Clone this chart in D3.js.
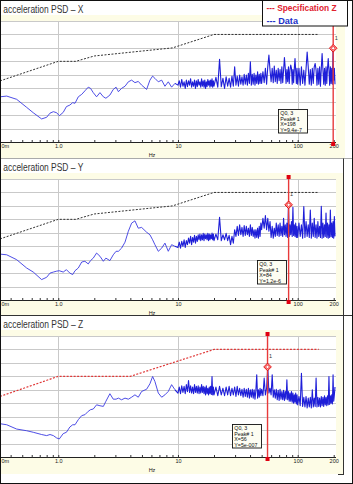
<!DOCTYPE html>
<html><head><meta charset="utf-8">
<script src="https://cdn.jsdelivr.net/npm/d3@7"></script>
<style>html,body{margin:0;padding:0;background:#fff;} svg{display:block;}</style>
</head><body>
<svg id="c" width="353" height="484"></svg>
<script>
// ---------------- DATA ----------------
const titles = ["acceleration PSD \u2013 X", "acceleration PSD \u2013 Y", "acceleration PSD \u2013 Z"];
const legendLabels = ["--- Specification Z", "--- Data"];

const freqLow = [0.326,0.371,0.449,0.544,0.618,0.726,0.80,0.853,0.91,0.97,1.02,1.10,1.17,1.25,1.32,1.38,1.47,1.57,1.67,1.78,1.86,1.96,2.09,2.23,2.38,2.50,2.70,2.88,3.04,3.18,3.38,3.61,3.85,4.10,4.37,4.66,4.97,5.47,5.83,6.14,6.42,6.85,7.31,7.78,8.30,8.85,9.44];
const freqHigh = [10,10.25,10.5,10.75,11,11.25,11.5,11.75,12,12.25,12.5,12.75,13,13.25,13.5,13.75,14,14.25,14.5,14.75,15,15.25,15.5,15.75,16,16.25,16.5,16.75,17,17.25,17.5,17.75,18,18.25,18.5,18.75,19,19.25,19.5,19.75,
 20,20.75,21.5,22.25,23,23.75,24.5,25.25,26,26.75,27.5,28.25,29,29.75,30.5,31.25,32,32.75,33.5,34.25,35,35.75,36.5,37.25,38,38.75,39.5,40.25,41,41.75,42.5,43.25,44,44.75,45.5,46.25,47,47.75,48.5,49.25,
 50,51.25,52.5,53.75,55,56.25,57.5,58.75,60,61.25,62.5,63.75,65,66.25,67.5,68.75,70,71.25,72.5,73.75,75,76.25,77.5,78.75,80,81.25,82.5,83.75,85,86.25,87.5,88.75,90,91.25,92.5,93.75,95,96.25,97.5,98.75,
 100,102.5,105,107.5,110,112.5,115,117.5,120,122.5,125,127.5,130,132.5,135,137.5,140,142.5,145,147.5,150,152.5,155,157.5,160,162.5,165,167.5,170,172.5,175,177.5,180,182.5,185,187.5,190,192.5,195,197.5,200,202.5,205];

const psdLowX = [2.3e-10,2.6e-10,1.5e-10,3.8e-11,1.5e-11,5.2e-12,6.9e-12,1.4e-11,1.8e-11,1.5e-11,9e-12,1.6e-11,4.3e-11,5.6e-11,8.5e-11,7.6e-11,2.3e-10,3.5e-10,6.4e-10,1.2e-9,9.8e-10,4.7e-10,2.3e-10,4.7e-10,2.3e-10,1.8e-10,3.1e-10,8.1e-10,1.2e-9,5.5e-10,9.8e-10,1.4e-9,3.0e-9,4.0e-9,2.6e-9,3.2e-9,1.7e-9,8.1e-10,4.0e-9,8.0e-9,5.4e-9,3.0e-9,4.0e-9,1.4e-9,3.0e-9,1.2e-9,2.3e-9];
const psdHighX = [
 1.7e-9,3.6e-9,1.2e-9,4.5e-9,1.4e-9,3.0e-9,9.8e-10,4.0e-9,1.3e-9,3.6e-9,
 1.7e-9,5.1e-9,1.2e-9,3.0e-9,1.4e-9,4.0e-9,9.8e-10,3.6e-9,1.3e-9,4.5e-9,
 1.7e-9,3.0e-9,1.2e-9,5.1e-9,1.4e-9,3.6e-9,1.2e-9,4.0e-9,9.8e-10,3.0e-9,
 1.3e-9,4.5e-9,1.7e-9,3.6e-9,1.2e-9,4.0e-9,1.4e-9,5.1e-9,1.2e-9,3.6e-9,
 1.4e-9,6.4e-9,1.2e-9,1.4e-7,1.3e-9,5.4e-9,9.8e-10,7.1e-9,1.4e-9,5.4e-9,
 1.2e-9,8.0e-9,1.4e-9,3.9e-8,1.7e-9,8.0e-9,1.4e-9,9.5e-9,2.0e-9,7.1e-9,
 1.7e-9,1.1e-8,2.0e-9,9.5e-9,1.7e-9,1.3e-8,2.3e-9,9.2e-8,1.7e-9,1.1e-8,
 2.0e-9,1.3e-8,1.7e-9,9.5e-9,2.3e-9,1.7e-8,2.0e-9,1.1e-8,2.3e-9,1.3e-8,
 2.3e-9,1.7e-8,2.6e-9,3.0e-8,2.0e-9,3.9e-8,2.9e-7,2.2e-8,3.0e-9,3.0e-8,
 2.6e-9,4.5e-8,3.0e-9,2.2e-8,2.3e-9,3.0e-8,3.6e-9,2.5e-8,2.3e-9,3.9e-8,
 2.6e-9,2.2e-8,1.9e-7,3.0e-8,2.3e-9,2.5e-8,3.0e-9,3.9e-8,2.3e-9,2.2e-8,
 5.2e-8,3.0e-8,2.0e-9,2.5e-8,2.6e-9,3.0e-8,1.6e-7,2.2e-8,2.3e-9,3.0e-8,
 2.0e-9,3.0e-8,1.7e-9,3.9e-8,2.3e-9,2.2e-8,1.7e-9,3.0e-8,5.0e-7,3.9e-8,
 2.0e-9,2.5e-8,1.7e-9,3.0e-8,2.3e-9,3.9e-8,6.9e-8,2.2e-8,1.7e-9,3.0e-8,
 2.0e-9,3.9e-8,1.4e-9,3.0e-8,3.8e-7,2.5e-8,2.0e-9,3.0e-8,1.7e-9,3.9e-8,
 2.3e-9,3.0e-8,1.6e-7,2.2e-8,1.7e-9,3.9e-8,2.3e-9,3.0e-8,2.0e-9,9.4e-7,
 4.0e-9,3.0e-8,2.0e-9];

const psdLowY = [2.6e-10,2.3e-10,1.0e-10,2.4e-11,1.2e-11,3.3e-12,4.9e-12,1.0e-11,1.2e-11,1.4e-11,1.5e-11,1.2e-11,1.8e-11,1.0e-11,7.8e-12,1.5e-11,2.4e-11,6.7e-11,7.6e-11,4.8e-11,8.5e-11,1.3e-10,3.1e-10,1.8e-10,7.6e-11,1.3e-10,8.5e-11,2.3e-10,4.2e-10,4.2e-10,7.2e-10,2.0e-9,1.3e-8,5.2e-8,7.7e-8,2.2e-8,2.5e-8,1.1e-8,7.1e-9,3.0e-9,1.3e-9,4.2e-10,7.2e-10,1.7e-9,4.2e-10,1.3e-9,9.8e-10];
const psdHighY = [
 8.1e-10,2.0e-9,7.2e-10,2.3e-9,9.8e-10,3.0e-9,8.1e-10,2.6e-9,1.3e-9,4.0e-9,
 1.7e-9,5.4e-9,1.3e-9,4.5e-9,2.0e-9,6.4e-9,1.7e-9,5.4e-9,2.3e-9,7.1e-9,
 3.0e-9,8.0e-9,2.6e-9,7.1e-9,3.0e-9,9.0e-9,2.6e-9,8.0e-9,3.6e-9,7.1e-9,
 3.0e-9,9.0e-9,2.6e-9,8.0e-9,3.0e-9,7.1e-9,3.6e-9,9.5e-9,3.0e-9,8.0e-9,
 2.6e-9,8.0e-9,3.0e-9,1.4e-7,2.6e-9,7.1e-9,3.0e-9,9.0e-9,2.6e-9,6.4e-9,
 1.3e-9,5.4e-9,1.7e-9,1.7e-8,5.4e-9,3.0e-8,6.4e-9,3.9e-8,7.1e-9,2.5e-8,
 5.4e-9,3.5e-8,6.4e-9,3.0e-8,7.1e-9,2.2e-8,5.4e-9,3.9e-8,6.4e-9,2.5e-8,
 5.4e-9,1.7e-8,4.0e-9,1.7e-8,4.5e-9,2.2e-8,4.0e-9,3.0e-8,5.4e-9,5.2e-8,
 1.7e-8,1.2e-7,2.2e-8,1.9e-7,1.7e-8,1.2e-7,1.3e-8,6.9e-8,4.5e-9,3.0e-8,
 4.0e-9,2.2e-8,5.4e-9,5.2e-8,6.4e-9,3.9e-8,5.4e-9,5.2e-8,6.4e-9,3.0e-8,
 5.4e-9,1.2e-7,7.1e-9,3.9e-8,5.4e-9,5.2e-8,4.5e-9,1.2e-6,5.4e-9,3.9e-8,
 7.1e-9,6.9e-8,5.4e-9,8.0e-7,6.4e-9,3.9e-8,5.4e-9,5.2e-8,4.5e-9,3.0e-8,
 4.5e-9,5.2e-8,5.4e-9,3.9e-8,4.0e-9,9.0e-7,4.5e-9,6.9e-8,5.4e-9,3.9e-8,
 4.5e-9,5.0e-7,4.0e-9,5.2e-8,5.4e-9,1.2e-7,4.5e-9,3.9e-8,4.0e-9,6.9e-8,
 5.4e-9,3.0e-8,4.5e-9,9.5e-7,4.0e-9,5.2e-8,4.5e-9,3.9e-8,5.4e-9,2.9e-7,
 4.5e-9,5.2e-8,4.0e-9,3.9e-8,4.5e-9,5.0e-7,5.4e-9,5.2e-8,4.5e-9,6.9e-8,
 4.0e-9,1.6e-7,5.4e-9];

const psdLowZ = [3.0e-11,2.5e-11,1.2e-11,9e-12,6.9e-12,4.7e-12,3.9e-12,4.7e-12,3.9e-12,2.6e-12,2.2e-12,5.5e-12,6.9e-12,1.7e-11,2.5e-11,2.5e-11,6.0e-11,1.2e-10,1.4e-10,2.5e-10,3.3e-10,3.7e-10,7.6e-10,6.5e-10,5.8e-10,1.4e-9,5.1e-9,2.0e-9,2.0e-9,2.4e-9,1.8e-9,2.4e-9,2.0e-9,2.8e-9,4.2e-9,2.8e-9,7.5e-9,1.1e-8,2.8e-8,9.7e-8,4.1e-8,5.7e-9,2.8e-9,4.2e-9,7.5e-9,2.4e-8,1.0e-8];
const psdHighZ = [
 5.7e-9,1.6e-8,5.1e-9,2.0e-8,6.4e-9,1.8e-8,5.1e-9,2.4e-8,7.1e-9,4.9e-8,
 6.4e-9,2.0e-8,5.7e-9,1.6e-8,5.1e-9,2.4e-8,6.4e-9,1.8e-8,5.7e-9,2.0e-8,
 5.1e-9,1.6e-8,5.7e-9,2.4e-8,6.4e-9,1.8e-8,5.1e-9,1.6e-8,4.2e-9,2.0e-8,
 5.1e-9,1.3e-8,4.2e-9,1.6e-8,5.1e-9,1.8e-8,4.5e-9,9.7e-8,4.2e-9,1.6e-8,
 4.2e-9,1.6e-8,3.6e-9,1.8e-8,4.2e-9,1.3e-8,3.6e-9,1.6e-8,4.2e-9,1.8e-8,
 3.6e-9,1.3e-8,4.2e-9,1.6e-8,3.2e-9,1.8e-8,4.2e-9,1.3e-8,3.6e-9,1.1e-8,
 2.8e-9,1.3e-8,3.2e-9,1.1e-8,2.8e-9,1.3e-8,2.4e-9,1.0e-8,2.8e-9,1.1e-8,
 2.4e-9,1.0e-8,2.0e-9,9.0e-9,1.3e-7,2.4e-9,1.0e-8,2.8e-9,1.3e-8,3.6e-9,
 1.1e-8,3.6e-9,7.3e-8,4.2e-9,1.3e-8,5.0e-7,5.7e-9,1.3e-8,4.2e-9,1.3e-7,
 2.8e-9,1.0e-8,2.4e-9,1.1e-8,1.8e-9,9.0e-9,1.6e-9,1.1e-8,2.0e-9,7.5e-9,
 1.8e-9,9.0e-9,1.6e-9,7.5e-9,2.0e-9,5.5e-8,1.8e-9,7.5e-9,1.4e-9,5.7e-9,
 1.4e-9,7.5e-9,1.2e-9,5.7e-9,1.0e-9,4.2e-9,1.2e-9,5.7e-9,9.0e-10,4.2e-9,
 7.6e-10,3.2e-9,6.5e-10,1.7e-7,5.8e-10,2.8e-9,5.2e-10,3.2e-9,4.4e-10,2.4e-9,
 5.2e-10,2.8e-9,4.4e-10,1.0e-8,5.2e-10,2.4e-9,5.8e-10,7.3e-8,5.2e-10,2.8e-9,
 5.8e-10,2.4e-9,5.2e-10,3.2e-9,6.5e-10,2.8e-9,5.8e-10,3.6e-9,7.6e-10,2.8e-9,
 6.5e-10,3.6e-9,7.6e-10,9.7e-8,8.0e-10,3.6e-9,1.0e-9,4.2e-9,9.0e-10,1.3e-7,
 1.4e-9,4.2e-9,1.6e-8];

const specXYFreq = [0.326, 1, 1.4, 2, 9, 20, 150];
const specXYVal  = [3.5e-9, 1e-7, 1e-7, 2.5e-7, 1e-6, 1e-5, 1e-5];
const specZFreq  = [0.326, 1, 4, 20, 150];
const specZVal   = [3.2e-9, 1e-7, 1e-7, 1e-5, 1e-5];

const markerFreq = [198, 84, 56];
const markerVal  = [9.4e-7, 1.2e-6, 5e-7];
const markerText = [["Q0,  3","Peak# 1","X=198","Y=9.4e-7"],
                    ["Q0,  3","Peak# 1","X=84","Y=1.2e-6"],
                    ["Q0,  3","Peak# 1","X=56","Y=5e-007"]];

const tickVals   = [0.3, 1, 10, 100, 200];
const tickLabels = ["0m", "1.0", "10", "100", "200"];
const axisLabel  = "Hz";

// ---------------- LAYOUT ----------------
const W = 353, H = 484;
const plotW = 336, plotH = 121;
const tops = [21, 179, 336];
const winBot = [158, 315, 474];
const creamRight = [345, 343, 343];
const boxPos = [[278.5,109.5],[257.5,260.5],[232.5,424.5]];
const cream = "#fdfce6";
const FONT = "'Liberation Sans', Arial, sans-serif";

const svg = d3.select("#c");
svg.append("rect").attr("width", W).attr("height", H).attr("fill", "#fff");

const x = d3.scaleLog().domain([0.326, 209]).range([0, plotW]);

const series = [
  {low: psdLowX, high: psdHighX, sf: specXYFreq, sv: specXYVal, sc: "#333", sw: 1},
  {low: psdLowY, high: psdHighY, sf: specXYFreq, sv: specXYVal, sc: "#333", sw: 1},
  {low: psdLowZ, high: psdHighZ, sf: specZFreq,  sv: specZVal,  sc: "#e03838", sw: 1.2}
];

series.forEach((s, i) => {
  const top = tops[i], bot = top + plotH;
  const y = d3.scaleLog().domain([1e-13, 1e-4]).range([bot, top]);
  const g = svg.append("g");

  g.append("rect").attr("x", 0).attr("y", top - 6).attr("width", creamRight[i]).attr("height", winBot[i] - (top - 6)).attr("fill", cream);
  g.append("rect").attr("x", 0).attr("y", top).attr("width", plotW).attr("height", plotH).attr("fill", "#fff");

  const dec = y.ticks(10).filter(v => Math.abs(Math.log10(v) - Math.round(Math.log10(v))) < 1e-6);
  g.selectAll(".hg").data(dec).enter().append("line")
    .attr("x1", 0).attr("x2", plotW)
    .attr("y1", d => Math.round(y(d)) + 0.5).attr("y2", d => Math.round(y(d)) + 0.5)
    .attr("stroke", "#c9c9c9").attr("stroke-width", 1);
  g.selectAll(".vg").data([1, 10, 100]).enter().append("line")
    .attr("x1", d => Math.round(x(d)) + 0.5).attr("x2", d => Math.round(x(d)) + 0.5)
    .attr("y1", top).attr("y2", bot)
    .attr("stroke", "#c9c9c9").attr("stroke-width", 1);

  const cid = "clip" + i;
  svg.append("clipPath").attr("id", cid).append("rect").attr("x", 0).attr("y", top).attr("width", plotW).attr("height", plotH);

  const spec = s.sf.map((f, k) => [f, s.sv[k]]);
  g.append("path").datum(spec)
    .attr("d", d3.line().x(d => x(d[0])).y(d => y(d[1])))
    .attr("fill", "none").attr("stroke", s.sc).attr("stroke-width", s.sw)
    .attr("stroke-dasharray", "2,1.5").attr("clip-path", `url(#${cid})`);

  const lowPts = freqLow.map((f, k) => [f, s.low[k]]);
  const highPts = [lowPts[lowPts.length - 1]].concat(freqHigh.map((f, k) => [f, s.high[k]]));
  const line = d3.line().x(d => x(d[0])).y(d => y(d[1]));
  g.append("path").datum(lowPts).attr("d", line)
    .attr("fill", "none").attr("stroke", "#3a3ae2").attr("stroke-width", 0.9)
    .attr("stroke-linejoin", "round").attr("clip-path", `url(#${cid})`);
  g.append("path").datum(highPts).attr("d", line)
    .attr("fill", "none").attr("stroke", "#1e1ed8").attr("stroke-width", 1.1)
    .attr("stroke-linejoin", "round").attr("clip-path", `url(#${cid})`);

  const ax = g.append("g").attr("transform", `translate(0,${Math.round(bot) + 0.5})`);
  ax.append("line").attr("x1", 0).attr("x2", plotW).attr("stroke", "#222").attr("stroke-width", 1);
  const minor = x.ticks().filter(v => v > 0.35);
  ax.call(d3.axisTop(x).tickValues(minor).tickSize(2.5).tickFormat(""))
    .call(a => a.select(".domain").remove())
    .call(a => a.selectAll(".tick line").attr("stroke", "#333"));
  const lab = g.append("g").attr("transform", `translate(0,${Math.round(bot) + 0.5})`)
    .call(d3.axisBottom(x).tickValues(tickVals).tickFormat((d, k) => tickLabels[k]).tickSize(0).tickPadding(1.8));
  lab.select(".domain").remove();
  lab.selectAll("text").attr("font-family", FONT).attr("font-size", 5.5).attr("fill", "#222");
  lab.selectAll(".tick").filter(d => x(d) < 0)
    .attr("transform", "translate(1.5,0)").select("text").attr("text-anchor", "start");
  g.append("text").attr("x", 152).attr("y", bot + 14.5).attr("text-anchor", "middle")
    .attr("font-family", FONT).attr("font-size", 5.5).attr("fill", "#222").text(axisLabel);

  g.append("text").attr("x", 3.3).attr("y", top - 8).attr("font-family", FONT).attr("font-size", 10.5)
    .attr("fill", "#333").attr("textLength", 80).attr("lengthAdjust", "spacingAndGlyphs").text(titles[i]);

  const mx = x(markerFreq[i]), my = y(markerVal[i]);
  const mg = g.append("g");
  mg.append("line").attr("x1", mx).attr("x2", mx).attr("y1", top - 2).attr("y2", bot + 2)
    .attr("stroke", "#e83a3a").attr("stroke-width", 1.4);
  mg.append("rect").attr("x", mx - 2).attr("y", top - 4).attr("width", 4).attr("height", 4).attr("fill", "#e00010");
  mg.append("rect").attr("x", mx - 2).attr("y", bot).attr("width", 4).attr("height", 4).attr("fill", "#e00010");
  mg.append("path").attr("d", "M0,-3.8L3.8,0L0,3.8L-3.8,0Z").attr("transform", `translate(${mx},${my})`)
    .attr("fill", "#ff9a9a").attr("stroke", "#e00000").attr("stroke-width", 0.9);
  mg.append("circle").attr("cx", mx).attr("cy", my).attr("r", 1.6).attr("fill", "#fff").attr("stroke", "#e00000").attr("stroke-width", 0.6);
  mg.append("text").attr("x", mx + 1.5).attr("y", my - 8.5).attr("font-family", FONT).attr("font-size", 5.5)
    .attr("fill", "#333").text("1");

  const [bx, by] = boxPos[i];
  const bg = g.append("g").attr("transform", `translate(${bx},${by})`);
  bg.append("rect").attr("width", 29).attr("height", 23.5).attr("fill", "#fdfdf2").attr("stroke", "#111").attr("stroke-width", 0.9);
  bg.selectAll("text").data(markerText[i]).enter().append("text")
    .attr("x", 1.8).attr("y", (d, k) => 5.3 + k * 5.8)
    .attr("font-family", FONT).attr("font-size", 5.3).attr("fill", "#111").text(d => d);
});

const fr = svg.append("g").attr("stroke", "#333").attr("stroke-width", 1).attr("fill", "none");
fr.append("line").attr("x1", 0).attr("x2", 352).attr("y1", 158.5).attr("y2", 158.5).attr("stroke", "#aaa");
fr.append("line").attr("x1", 343.5).attr("x2", 343.5).attr("y1", 158.5).attr("y2", 315);
fr.append("line").attr("x1", 0).attr("x2", 352).attr("y1", 315.5).attr("y2", 315.5);
fr.append("line").attr("x1", 343.5).attr("x2", 343.5).attr("y1", 315.5).attr("y2", 474);
fr.append("line").attr("x1", 338).attr("x2", 344).attr("y1", 474.5).attr("y2", 474.5);

const lg = svg.append("g");
lg.append("rect").attr("x", 262.5).attr("y", 0.5).attr("width", 85).attr("height", 25.5)
  .attr("fill", "#fff").attr("stroke", "#111").attr("stroke-width", 1);
lg.append("text").attr("x", 266.5).attr("y", 11).attr("font-family", FONT).attr("font-weight", "bold")
  .attr("font-size", 9.5).attr("fill", "#e0202e").attr("textLength", 70).attr("lengthAdjust", "spacingAndGlyphs").text(legendLabels[0]);
lg.append("text").attr("x", 266.5).attr("y", 23.5).attr("font-family", FONT).attr("font-weight", "bold")
  .attr("font-size", 9.5).attr("fill", "#2030c8").attr("textLength", 31.5).attr("lengthAdjust", "spacingAndGlyphs").text(legendLabels[1]);

svg.append("rect").attr("x", 0.5).attr("y", 0.5).attr("width", W - 1).attr("height", H - 1)
  .attr("fill", "none").attr("stroke", "#111").attr("stroke-width", 1);
</script>
</body></html>
